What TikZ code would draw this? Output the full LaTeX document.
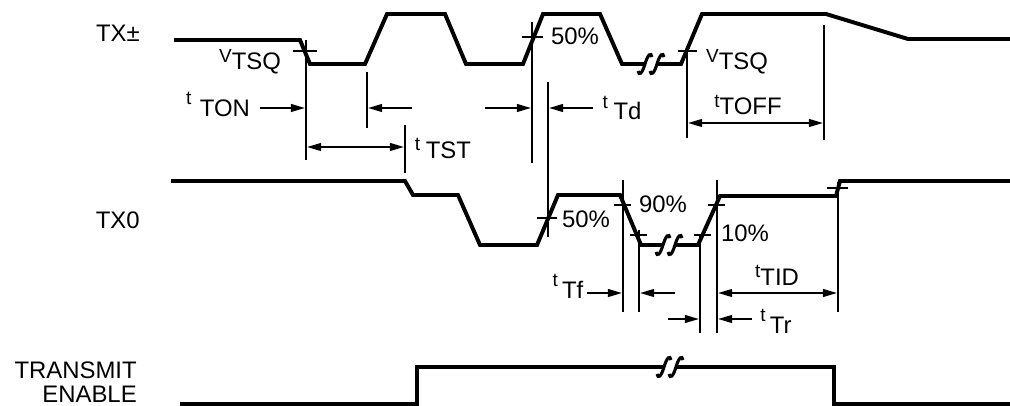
\documentclass[tikz,border=0pt]{standalone}
\usepackage{fontspec}
\setmainfont{Liberation Sans}
\usetikzlibrary{arrows.meta}

% raised small prefix (t, V) followed by the subscript letters
\newcommand{\lbl}[3][5pt]{\raisebox{#1}{\fontsize{13.5}{14}\selectfont #2}#3}

\tikzset{
    brk/.pic={\draw[line width=2.2pt] (-7,7) .. controls (-6,12) and (-3,10) .. (0,0) .. controls (3,-10) and (6,-12) .. (7,-7);}
}

\begin{document}
\begin{tikzpicture}[
        x=0.025cm, y=-0.025cm,
        every node/.style={inner sep=0pt, font=\fontsize{17}{18}\selectfont},
        sig/.style={line width=2.8pt, line join=miter},
        dimln/.style={line width=1.3pt},
        dimarr/.style={dimln, -{Triangle[length=10pt, width=5.5pt]}},
        dimboth/.style={dimln, {Triangle[length=10pt, width=5.5pt]}-{Triangle[length=10pt, width=5.5pt]}}
    ]
        \useasboundingbox (0,0) rectangle (1010,406);

        % Signal names
        \node[anchor=east] (txpm) at (140,33) {TX±};
        \node[anchor=east] (txzero) at (140,220) {TX0};
        \node[anchor=base east] (txen) at (137,378) {TRANSMIT};
        \node[anchor=base east] (txenb) at (137,402) {ENABLE};

        % TX+- waveform
        \draw[sig] (174,40) -- (300,40) -- (310,64) -- (365,64) -- (387,14) -- (445,14) -- (466,64)
            -- (523,64) -- (543,14) -- (600,14) -- (622,64) -- (644,64);
        \draw[sig] (657,64) -- (681,64) -- (702,14) -- (826,14) -- (908,39) -- (1010,39);
        \pic at (645,64) {brk};
        \pic at (657,64) {brk};

        % TX0 waveform
        \draw[sig] (171,181) -- (405,181) -- (413,195) -- (458,195) -- (480,245) -- (537,245)
            -- (558,195) -- (620,195) -- (641,245) -- (662,245);
        \draw[sig] (675,245) -- (698,245) -- (720,196) -- (836,196) -- (840,181) -- (1010,181);
        \pic at (663,245) {brk};
        \pic at (675,245) {brk};

        % Transmit enable
        \draw[sig] (180,404) -- (417,404) -- (417,367) -- (663,367);
        \draw[sig] (676,367) -- (834,367) -- (834,404) -- (1010,404);
        \pic at (664,367) {brk};
        \pic at (676,367) {brk};

        % Level ticks and extension lines
        \draw[dimln] (293,51) -- (317,51);
        \draw[dimln] (306,40) -- (306,160);
        \draw[dimln] (367,72) -- (367,128);
        \draw[dimln] (522,37) -- (543,37);
        \draw[dimln] (532,22) -- (532,163);
        \draw[dimln] (405,125) -- (405,173);
        \draw[dimln] (548,82) -- (548,237);
        \draw[dimln] (537,218) -- (557,218);
        \draw[dimln] (678,51) -- (697,51);
        \draw[dimln] (687,50) -- (687,138);
        \draw[dimln] (824,25) -- (824,140);
        \draw[dimln] (614,205) -- (631,205);
        \draw[dimln] (623,180) -- (623,312);
        \draw[dimln] (630,235) -- (647,235);
        \draw[dimln] (639,230) -- (639,312);
        \draw[dimln] (694,235) -- (711,235);
        \draw[dimln] (700,235) -- (700,333);
        \draw[dimln] (708,205) -- (725,205);
        \draw[dimln] (717,180) -- (717,333);
        \draw[dimln] (827,188) -- (848,188);
        \draw[dimln] (838,182) -- (838,312);

        % Timing arrows
        \draw[dimarr] (260,108) -- (305,108);
        \draw[dimarr] (412,108) -- (368,108);
        \draw[dimarr] (485,108) -- (531,108);
        \draw[dimarr] (593,108) -- (549,108);
        \draw[dimboth] (307,147) -- (404,147);
        \draw[dimboth] (688,123) -- (823,123);
        \draw[dimarr] (587,293) -- (622,293);
        \draw[dimarr] (675,293) -- (640,293);
        \draw[dimboth] (718,293) -- (837,293);
        \draw[dimarr] (668,319) -- (699,319);
        \draw[dimarr] (752,319) -- (718,319);

        % Labels
        \node[anchor=base] (vtsqa) at (250,70) {\lbl{V}{TSQ}};
        \node[anchor=base] (vtsqb) at (737,70) {\lbl{V}{TSQ}};
        \node[anchor=base] (pcta) at (575,45) {50\%};
        \node[anchor=base] (tton) at (218,117) {\lbl[9pt]{t}{\hspace{6pt}TON}};
        \node[anchor=base] (ttd) at (622,120) {\lbl[8pt]{t}{\hspace{4pt}Td}};
        \node[anchor=base] (ttst) at (443,159) {\lbl[6pt]{t}{\hspace{4pt}TST}};
        \node[anchor=base] (ttoff) at (748,115) {\lbl{t}{TOFF}};
        \node[anchor=base] (pctb) at (586,227) {50\%};
        \node[anchor=base] (pctc) at (663,212) {90\%};
        \node[anchor=base] (pctd) at (745,242) {10\%};
        \node[anchor=base] (ttf) at (568,298) {\lbl[8pt]{t}{\hspace{3pt}Tf}};
        \node[anchor=base] (ttid) at (777,285) {\lbl{t}{TID}};
        \node[anchor=base] (ttr) at (776,333) {\lbl[8pt]{t}{\hspace{3pt}Tr}};
    \end{tikzpicture}
\end{document}
